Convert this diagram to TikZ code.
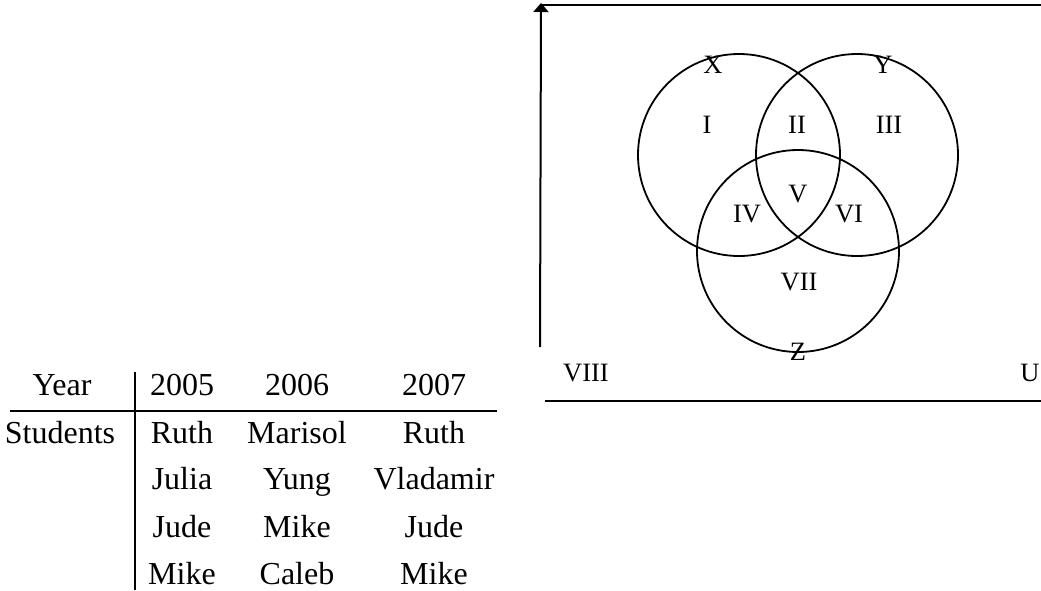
\documentclass[tikz,border=0pt]{standalone}
\usepackage{fontspec}
\setmainfont{Liberation Serif}
\usetikzlibrary{arrows.meta}

\begin{document}
\begin{tikzpicture}[
    x=1pt, y=-1pt,
    tcell/.style={anchor=base, inner sep=0pt, font=\fontsize{32}{38}\selectfont},
    region/.style={anchor=base, inner sep=0pt, font=\fontsize{26.5}{31}\selectfont},
    setcircle/.style={circle, draw, line width=1.8pt, inner sep=0pt, minimum size=202pt},
    rule/.style={line width=2pt},
]
\useasboundingbox (0,0) rectangle (1041,590);

% --- table of students per year ---
\node[tcell] (year) at (62,395) {Year};
\node[tcell] (stud) at (60,443) {Students};
\foreach \x/\yr/\a/\b/\c/\d [count=\i] in {182/2005/Ruth/Julia/Jude/Mike,
    297/2006/Marisol/Yung/Mike/Caleb, 434/2007/Ruth/Vladamir/Jude/Mike} {
  \node[tcell] (yr\i) at (\x,395) {\yr};
  \node[tcell] (a\i) at (\x,443) {\a};
  \node[tcell] (b\i) at (\x,489) {\b};
  \node[tcell] (c\i) at (\x,537) {\c};
  \node[tcell] (d\i) at (\x,584) {\d};
}
\coordinate (vtop) at (135,372);
\coordinate (vbot) at (135,590);
\coordinate (hleft) at (10,411);
\coordinate (hright) at (497,411);
\draw[rule] (vtop) -- (vbot);
\draw[rule] (hleft) -- (hright);

% --- universe frame ---
\coordinate (utl) at (542,5);
\coordinate (utr) at (1041,5);
\coordinate (uarr) at (541,3);
\coordinate (uleft) at (540,347);
\coordinate (ubl) at (545,401);
\coordinate (ubr) at (1041,401);
\draw[rule] (utl) -- (utr);
\draw[rule, -{Triangle[length=9pt, width=15pt]}] (uleft) -- (uarr);
\draw[rule] (ubl) -- (ubr);

% --- sets ---
\node[setcircle] (setX) at (739,155) {};
\node[setcircle] (setY) at (857,155) {};
\node[setcircle] (setZ) at (798,251) {};

\node[region] (lX) at (713,73) {X};
\node[region] (lY) at (883,73) {Y};
\node[region] (lZ) at (798,360) {Z};
\node[region] (r1) at (707,133) {I};
\node[region] (r2) at (797,133) {II};
\node[region] (r3) at (889,133) {III};
\node[region] (r5) at (798,202) {V};
\node[region] (r4) at (747,222) {IV};
\node[region] (r6) at (849,222) {VI};
\node[region] (r7) at (799,290) {VII};
\node[region] (r8) at (586,381) {VIII};
\node[region] (lU) at (1030,381) {U};

\end{tikzpicture}
\end{document}
